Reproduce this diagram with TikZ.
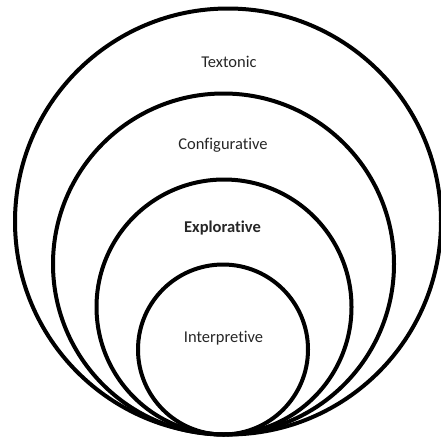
\documentclass[tikz,border=0pt]{standalone}
\usepackage{fontspec}
\setmainfont{Carlito}[Ligatures={NoCommon}]
\begin{document}
\begin{tikzpicture}[x=1pt,y=-1pt,
  ring/.style={draw=black,line width=4pt,circle,minimum size=#1,inner sep=0pt},
  lbl/.style={text=black!85,font=\fontsize{16.5}{19}\selectfont,inner sep=0pt}]
  \useasboundingbox (0,0) rectangle (441,440);
  \begin{scope}
    \clip (0,0) rectangle (441,440);
    % nested rings, all touching at the bottom
    \node[ring=426pt] (textonic) at (228,221.5) {};
    \node[ring=341pt] (configurative) at (223.5,264) {};
    \node[ring=255pt] (explorative) at (224,307) {};
    \node[ring=170pt] (interpretive) at (223,349.5) {};
  \end{scope}
  \node[lbl] (t1) at (229,62) {Textonic};
  \node[lbl] (t2) at (223,145) {Configurative};
  \node[lbl,font=\fontsize{16.5}{19}\selectfont\bfseries] (t3) at (222.5,228) {Explorative};
  \node[lbl] (t4) at (223.5,338) {Interpretive};
\end{tikzpicture}
\end{document}
